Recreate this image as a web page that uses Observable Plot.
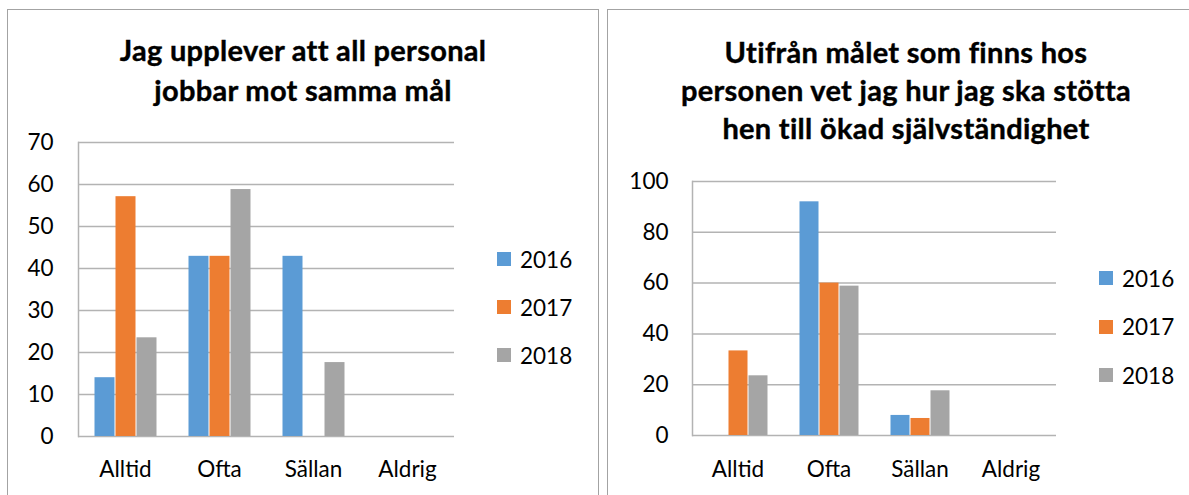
<!DOCTYPE html>
<html><head><meta charset="utf-8">
<script src="https://cdn.jsdelivr.net/npm/d3@7"></script>
<script src="https://cdn.jsdelivr.net/npm/@observablehq/plot@0.6"></script>
<style>
html,body{margin:0;background:#fff}
body{font-family:Lato,sans-serif;width:1189px;height:495px;overflow:hidden;position:relative}
.panel{position:absolute;top:9px;height:520px;border:1.5px solid #a3a3a3;box-sizing:border-box}
.title{position:absolute;left:0;right:0;text-align:center;font-weight:bold;font-size:29px;letter-spacing:0.3px;-webkit-text-stroke:0.4px #000;color:#000}
.legend{position:absolute;font-size:22.5px;color:#000}
.item{display:flex;align-items:center;height:48px}
.sw{width:14px;height:14px;margin-right:9px}
.chart{position:absolute}
</style></head><body>
<div id="root"></div>
<script>
const categories = ["Alltid", "Ofta", "Sällan", "Aldrig"];
const years = ["2016", "2017", "2018"];
const colors = ["#5B9BD5", "#ED7D31", "#A5A5A5"];

const title1 = ["Jag upplever att all personal", "jobbar mot samma mål"];
const chart1_2016 = [14, 42.9, 42.9, 0];
const chart1_2017 = [57.1, 42.9, 0, 0];
const chart1_2018 = [23.5, 58.8, 17.6, 0];
const yTicks1 = [0, 10, 20, 30, 40, 50, 60, 70];

const title2 = ["Utifrån målet som finns hos", "personen vet jag hur jag ska stötta", "hen till ökad självständighet"];
const chart2_2016 = [0, 92, 7.9, 0];
const chart2_2017 = [33.3, 60, 6.7, 0];
const chart2_2018 = [23.5, 58.8, 17.6, 0];
const yTicks2 = [0, 20, 40, 60, 80, 100];

function makeChart(series, yTicks, dims) {
  const rows = categories.flatMap((c, i) => years.map((y, j) => ({category: c, year: y, value: series[j][i]})));
  return Plot.plot({
    width: dims.width, height: dims.height,
    marginLeft: dims.ml, marginRight: dims.mr, marginTop: dims.mt, marginBottom: dims.mb,
    style: {fontFamily: "Lato, sans-serif", fontSize: "22.5px", color: "#000", background: "transparent", overflow: "visible"},
    fx: {domain: categories, padding: 0, label: null, axis: "bottom", tickSize: 0, tickPadding: dims.xpad},
    x: {domain: years, axis: null, paddingInner: 0, paddingOuter: 0.71},
    y: {domain: [0, yTicks[yTicks.length - 1]], ticks: yTicks, tickSize: 0, tickPadding: dims.ypad, label: null},
    color: {domain: years, range: colors},
    marks: [
      Plot.ruleY(yTicks, {stroke: "#b3b3b3", strokeWidth: 1.5}),
      Plot.frame({anchor: "left", facetAnchor: "left", stroke: "#b3b3b3", strokeWidth: 1.5}),
      Plot.barY(rows, {fx: "category", x: "year", y: "value", fill: "year", insetLeft: 0.5, insetRight: 0.5})
    ]
  });
}

function addPanel(left, width, titleLines, titleTop, lineH, series, yTicks, svgPos, dims, legendPos) {
  const root = document.getElementById("root");
  const p = document.createElement("div");
  p.className = "panel"; p.style.left = left + "px"; p.style.width = width + "px";
  root.appendChild(p);
  const t = document.createElement("div");
  t.className = "title"; t.style.top = titleTop + "px"; t.style.lineHeight = lineH + "px";
  t.innerHTML = titleLines.join("<br>");
  p.appendChild(t);
  const svg = makeChart(series, yTicks, dims);
  svg.classList.add("chart");
  svg.style.left = svgPos[0] + "px"; svg.style.top = svgPos[1] + "px";
  root.appendChild(svg);
  const lg = document.createElement("div");
  lg.className = "legend"; lg.style.left = legendPos[0] + "px"; lg.style.top = legendPos[1] + "px";
  years.forEach((y, i) => {
    const it = document.createElement("div"); it.className = "item"; it.style.height = legendPos[2] + "px";
    const sw = document.createElement("div"); sw.className = "sw"; sw.style.background = colors[i];
    const tx = document.createElement("span"); tx.textContent = y;
    it.appendChild(sw); it.appendChild(tx); lg.appendChild(it);
  });
  root.appendChild(lg);
}

addPanel(7, 592, title1, 20, 40, [chart1_2016, chart1_2017, chart1_2018], yTicks1,
  [0, 120], {width: 470, height: 375, ml: 78, mr: 16, mt: 22, mb: 59, xpad: 25, ypad: 25}, [497, 235, 48]);
addPanel(607, 598, title2, 23, 38, [chart2_2016, chart2_2017, chart2_2018], yTicks2,
  [608, 160], {width: 462, height: 334, ml: 84, mr: 14, mt: 21, mb: 59, xpad: 26, ypad: 24}, [1099, 254, 48.5]);
</script>
</body></html>
